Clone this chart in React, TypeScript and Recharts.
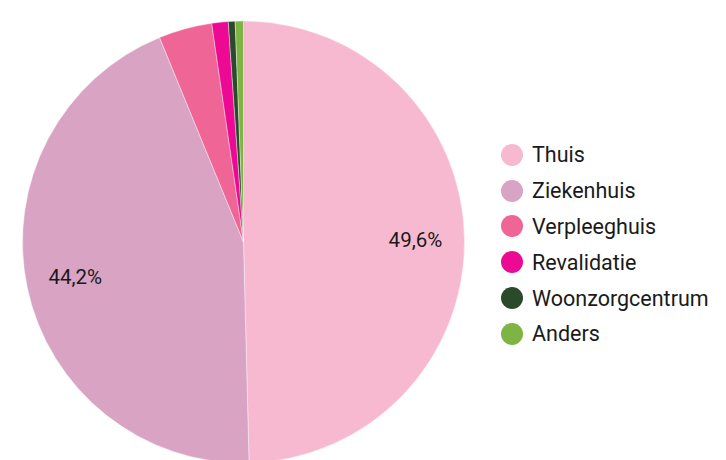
import React from "react";
import { PieChart, Pie, Cell, Legend } from "recharts";

const categories = ["Thuis", "Ziekenhuis", "Verpleeghuis", "Revalidatie", "Woonzorgcentrum", "Anders"];
const values = [49.6, 44.2, 3.9, 1.2, 0.5, 0.6];
const colors = ["#f7b9cf", "#d9a4c4", "#ef6595", "#ec0a94", "#2a4a2a", "#7db443"];

const data = categories.map((name, i) => ({ name, value: values[i] }));

const FONT = "Roboto, 'Noto Sans', sans-serif";

const RADIAN = Math.PI / 180;

function renderLabel(props: any) {
  const { cx, cy, midAngle, outerRadius, value } = props;
  if (value < 10) return null;
  const r = outerRadius * 0.778;
  const x = cx + r * Math.cos(-midAngle * RADIAN);
  const y = cy + r * Math.sin(-midAngle * RADIAN);
  return (
    <text
      x={x}
      y={y}
      fill="#1a1a1a"
      fontFamily={FONT}
      fontSize={20.5}
      textAnchor="middle"
      dominantBaseline="central"
    >
      {value.toFixed(1).replace(".", ",")}%
    </text>
  );
}

function LegendContent() {
  return (
    <div style={{ fontFamily: FONT, fontSize: 21.5, color: "#1a1a1a" }}>
      {categories.map((c, i) => (
        <div key={c} style={{ display: "flex", alignItems: "center", height: 35.8 }}>
          <span
            style={{
              width: 22,
              height: 22,
              borderRadius: "50%",
              background: colors[i],
              display: "inline-block",
              marginRight: 9,
            }}
          />
          <span>{c}</span>
        </div>
      ))}
    </div>
  );
}

export default function App() {
  return (
    <div style={{ position: "absolute", left: 0, top: 0, width: 726, height: 460, background: "#fff" }}>
      <PieChart width={726} height={460} margin={{ top: 0, right: 0, bottom: 0, left: 0 }}>
        <Pie
          data={data}
          dataKey="value"
          nameKey="name"
          cx={243.5}
          cy={242}
          outerRadius={221}
          startAngle={90}
          endAngle={-270}
          stroke="#ffffff"
          strokeWidth={0.4}
          label={renderLabel}
          labelLine={false}
          isAnimationActive={false}
        >
          {data.map((d, i) => (
            <Cell key={d.name} fill={colors[i]} />
          ))}
        </Pie>
        <Legend
          layout="vertical"
          align="right"
          verticalAlign="top"
          content={<LegendContent />}
          wrapperStyle={{ left: 501, top: 137, width: 225 }}
        />
      </PieChart>
    </div>
  );
}
